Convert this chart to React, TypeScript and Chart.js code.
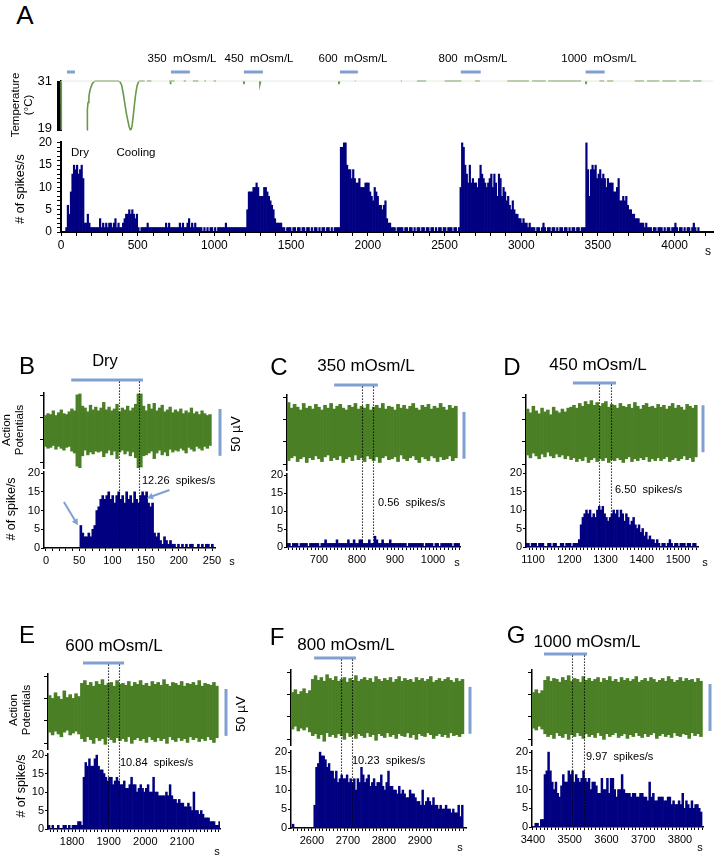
import React, { useEffect, useRef } from "react";
import { Chart, registerables } from "chart.js";

Chart.register(...registerables);

const FONT = '"Liberation Sans", Arial, Helvetica, sans-serif';
Chart.defaults.font.family = FONT;
Chart.defaults.color = "#000";

const NAVY = "#000080";
const AP_GREEN = "#4b7f25";
const TEMP_GREEN = "#6a9a48";
const STIM_BLUE = "#80a0d2";

// ================= Panel A data =================
const aSpikeBinStart = 0;
const aSpikeBinWidth = 10;
const aSpikeCounts = [
  0,0,0,1,6,4,9,13,15,14, 15,13,14,15,12,2,2,4,2,1,
  1,1,1,1,1,3,1,2,1,2, 1,2,2,1,2,3,1,2,1,1,
  2,3,4,4,5,4,5,4,3,4, 1,0,1,1,1,1,2,1,1,1,
  1,1,1,1,1,1,1,1,2,1, 2,1,1,1,1,1,1,2,1,2,
  1,1,2,3,1,2,1,2,1,1, 1,1,0,1,0,1,0,1,1,0,
  1,0,1,1,1,1,1,2,1,1, 1,1,1,1,1,1,1,1,1,1,
  1,5,9,9,9,10,10,11,10,8, 8,8,10,10,9,8,7,6,5,3,
  2,2,2,2,1,1,0,1,1,1, 0,1,1,0,1,1,0,1,1,0,
  1,1,0,1,0,1,1,0,1,0, 1,1,0,1,1,0,1,0,1,1,
  1,1,19,19,20,20,15,14,14,12, 14,12,11,11,12,10,10,10,11,11,
  11,9,8,7,10,9,8,6,6,5, 6,7,3,2,2,1,1,1,0,1,
  1,1,1,0,1,1,0,1,1,0, 1,0,1,1,0,1,1,0,1,1,
  0,1,1,0,1,0,1,1,0,1, 1,0,1,1,1,0,1,1,0,1,
  10,20,19,15,13,11,15,11,12,11, 11,10,12,15,13,12,11,10,11,12,
  13,10,13,11,8,13,12,8,10,9, 7,8,6,5,7,5,4,4,3,3,
  2,3,2,2,1,2,1,1,1,0, 1,1,0,1,2,1,0,1,1,0,
  1,1,0,1,0,1,1,0,1,1, 0,1,0,1,1,0,1,1,0,1,
  1,1,20,14,8,14,15,14,15,12, 13,14,12,13,12,10,12,11,11,11,
  9,9,10,12,7,7,8,7,8,6, 5,5,4,4,3,3,3,2,2,2,
  1,2,1,1,1,0,1,1,0,1, 1,1,0,1,0,1,1,0,1,1,
  2,1,0,1,1,0,1,0,1,1, 0,1,2,1,0,1,0,0,0,0,
  0,0,0,0,0
];
const aTimeMax = 4250;
const aXLabeled = [0, 500, 1000, 1500, 2000, 2500, 3000, 3500, 4000];
const aYLabeled = [0, 5, 10, 15, 20];
const aTempLabeled = [19, 31];
const aTempSetpoint = [[0, 31], [4250, 31]];
const aTempTrace = [
  [0,31],[2,18.5],[3,null],
  [170,18.5],[172,23.8],[176,25.5],[182,27],[188,28.5],[196,29.5],[204,30.3],[214,30.8],[224,31],[300,31],[370,31],
  [385,30.8],[395,30],[405,28],[415,25.5],[425,23],[435,21],[445,19.2],[452,18.6],[458,18.7],[464,19.8],[472,22.5],
  [480,25.5],[488,28],[496,29.8],[504,30.7],[512,31],[545,31],[546,null],
  [560,31],[590,31],[591,null],
  [705,31],[712,31],[714,30.2],[716,31],[740,31],[741,null],
  [800,31],[815,31],[816,null],
  [860,31],[895,31],[896,null],
  [935,31],[945,31],[946,null],
  [995,31],[1010,31],[1011,null],
  [1190,31],[1192,30.2],[1196,31],[1197,null],
  [1295,31],[1297,30.2],[1302,31],[1303,null],
  [1810,31],[1812,30.2],[1816,31],[1817,null],
  [1915,31],[1921,31],[1922,null],
  [2215,31],[2222,31],[2223,null],
  [2320,31],[2380,31],[2381,null],
  [2500,31],[2610,31],[2611,null],
  [2700,31],[2730,31],[2731,null],
  [2910,31],[3050,31],[3051,null],
  [3070,31],[3160,31],[3161,null],
  [3175,31],[3390,31],[3391,null],
  [3420,31],[3422,30.2],[3426,31],[3427,null],
  [3510,31],[3540,31],[3541,null],
  [3560,31],[3600,31],[3601,null],
  [3740,31],[3800,31],[3801,null],
  [3820,31],[3900,31],[3901,null],
  [3920,31],[4010,31],[4011,null],
  [4030,31],[4100,31],[4101,null],
  [4120,31],[4175,31]
];
const aStimNames = ["Dry", "350  mOsm/L", "450  mOsm/L", "600  mOsm/L", "800  mOsm/L", "1000  mOsm/L"];
const aStimStart = [39, 717, 1192, 1818, 2606, 3420];
const aStimEnd = [91, 840, 1316, 1935, 2736, 3544];

// ================= Panels B-G data =================
const panelLetters = ["B", "C", "D", "E", "F", "G"];
const panelTitles = ["Dry", "350 mOsm/L", "450 mOsm/L", "600 mOsm/L", "800 mOsm/L", "1000 mOsm/L"];
const panelRates = ["12.26  spikes/s", "0.56  spikes/s", "6.50  spikes/s", "10.84  spikes/s", "10.23  spikes/s", "9.97  spikes/s"];
const panelXMin = [-3, 616, 1080.7, 1734.5, 2541.7, 3397.3];
const panelXMax = [254.5, 1071, 1555, 2203.6, 3027.8, 3862.6];
const panelXLabeled = [
  [0, 50, 100, 150, 200, 250],
  [700, 800, 900, 1000],
  [1100, 1200, 1300, 1400, 1500],
  [1800, 1900, 2000, 2100],
  [2600, 2700, 2800, 2900],
  [3400, 3500, 3600, 3700, 3800]
];
const histYLabeled = [0, 5, 10, 15, 20];
const apAxisTicks = [-34, -10, 14, 37];
const panelStimStart = [38, 740, 1210, 1830, 2606, 3430];
const panelStimEnd = [146, 855, 1329, 1942, 2722, 3547];
const panelWinStart = [110, 813, 1282, 1898, 2681, 3506];
const panelWinEnd = [140, 842, 1315, 1928, 2711, 3539];
const scaleBarLow = [-27, -28, -21, -26, -28, -25];
const scaleBarSpan = 50;
const bArrowTail = [[27, 12.3], [186, 15.5]];
const bArrowHead = [[48, 6.1], [152, 13.3]];

const histStart = [0, 615, 1080, 1735, 2540, 3395];
const histBin = [3, 5, 5, 5, 5, 5];
const histB = [
  0,0,0,0,0,0,0,0,0,0, 0,0,0,0,0,0,0,6,4,3,
  3,4,3,5,6,10,11,13,14,13, 14,15,13,14,12,14,15,13,14,12,
  15,13,14,12,15,13,12,14,15,14, 15,12,11,12,4,3,4,2,1,3,
  2,1,2,1,1,0,1,0,1,0, 1,0,1,1,0,0,1,0,1,0,
  1,1,0,1
];
const histC = [
  1,1,0,1,1,1,0,1,1,1, 1,0,1,1,1,1,1,0,1,1,
  2,1,1,1,1,1,2,1,1,1, 1,1,2,1,1,2,1,1,2,2,
  1,1,1,2,1,1,3,2,1,1, 2,1,1,1,2,1,1,1,1,1,
  1,1,1,0,1,1,1,1,1,1, 1,1,0,1,1,1,1,0,1,1,
  0,1,1,1,1,1,1,0,1,1, 1
];
const histD = [
  1,1,0,1,1,1,0,1,1,1, 0,0,1,1,0,1,1,0,0,1,
  1,0,1,1,1,0,1,1,1,2, 6,8,9,10,9,10,8,9,8,10,
  11,10,11,9,8,7,8,9,10,9, 10,8,10,9,7,9,8,6,7,8,
  6,5,6,4,5,3,4,2,3,2, 2,1,2,1,0,1,1,0,1,2,
  1,0,1,1,0,1,1,1,0,1, 1,0,1,1
];
const histE = [
  1,0,1,0,0,1,0,0,1,1, 0,1,0,1,1,1,2,2,1,14,
  18,17,19,17,17,19,20,17,16,16, 15,14,13,14,14,12,13,14,13,12,
  12,13,11,11,12,14,12,12,10,11, 12,11,10,11,12,10,10,14,10,10,
  9,9,9,9,10,9,12,9,8,8, 7,8,7,7,6,6,7,6,5,10,
  5,5,4,5,4,3,3,3,2,2, 2,1,1,2
];
const histF = [
  0,1,0,0,0,0,0,0,0,0, 0,0,0,6,16,17,20,19,19,18,
  16,17,15,15,13,15,12,13,14,13, 13,14,12,13,12,13,10,13,12,16,
  14,12,13,14,11,12,13,11,12,12, 14,11,10,12,15,11,11,10,10,9,
  11,9,10,9,8,8,10,9,9,8, 7,7,6,10,6,7,8,7,6,8,
  6,6,5,6,5,5,6,5,5,4, 5,4,4,6,3,6,0
];
const histG = [
  0,0,1,1,0,2,2,14,15,20, 15,12,10,12,9,8,11,14,12,12,
  15,14,15,12,14,13,12,13,15,13, 12,13,10,12,12,11,9,9,13,10,
  10,13,9,13,13,10,8,10,10,14, 10,9,9,9,8,9,9,8,8,9,
  9,8,8,7,12,8,9,7,7,8, 8,8,7,7,8,8,6,7,6,6,
  7,6,9,5,7,6,5,7,5,6, 6,5,4,0
];
const histCounts = [histB, histC, histD, histE, histF, histG];

const apStart = [-3, 616, 1081, 1735, 2542, 3397];
const apBin = [4, 8, 8, 8, 8, 8];
const apTopB = [
  16,18,17,21,16,19,22,18,17,20, 23,21,38,39,26,24,20,27,22,25,
  21,24,30,22,25,21,23,28,20,24, 22,26,21,24,28,39,39,26,21,28,
  23,29,21,24,27,20,22,25,19,22, 20,23,18,21,19,24,18,20,17,21,
  18,16,17
];
const apBottomB = [
  -17,-19,-18,-16,-20,-17,-19,-21,-18,-17, -22,-24,-38,-40,-27,-21,-26,-23,-25,-22,
  -23,-22,-28,-24,-21,-26,-22,-30,-23,-21, -25,-22,-27,-23,-29,-40,-39,-27,-26,-24,
  -22,-30,-24,-21,-26,-23,-27,-20,-23,-21, -22,-19,-21,-24,-18,-20,-22,-17,-19,-21,
  -17,-19,-16
];
const apTopC = [
  32,26,30,27,24,31,26,28,25,30, 27,24,29,26,31,25,28,30,26,24,
  29,27,31,25,28,26,30,24,27,29, 26,31,25,28,27,24,30,26,29,25,
  28,31,26,24,29,27,30,25,28,26, 31,27,24,29,26,28
];
const apBottomC = [
  -30,-27,-25,-31,-28,-26,-32,-27,-29,-25, -28,-31,-26,-24,-30,-27,-29,-25,-32,-28,
  -26,-30,-24,-29,-27,-31,-25,-28,-30,-26, -32,-27,-25,-29,-28,-26,-31,-24,-28,-30,
  -27,-25,-29,-32,-26,-28,-30,-25,-27,-31, -26,-29,-28,-25,-30,-27
];
const apTopD = [
  25,21,28,23,20,26,22,24,19,27,23,21,25,22,26,
  27,29,26,31,28,33,30,34,29,32,28,31,33,27,30,
  29,26,31,28,27,30,26,32,28,25,29,31,27,28,26,
  30,27,29,25,28,31,26,29,27,24,30,28,26,29
];
const apBottomD = [
  -24,-27,-22,-25,-28,-23,-26,-21,-25,-27,-23,-26,-24,-28,-25,
  -29,-27,-31,-28,-30,-26,-32,-29,-27,-31,-28,-30,-27,-32,-29,
  -30,-27,-29,-32,-28,-26,-31,-28,-30,-27,-29,-26,-31,-28,-30,
  -27,-30,-28,-26,-31,-29,-27,-30,-28,-25,-29,-27,-31,-26
];
const apTopE = [
  17,14,20,16,13,22,15,18,14,19,16,
  30,33,28,31,27,32,29,34,28,30, 31,27,33,29,30,28,32,27,31,29,
  33,28,30,27,32,29,31,28,34,29, 27,31,30,28,32,27,30,29,31,28,
  33,27,30,29,28,31,27
];
const apBottomE = [
  -22,-25,-21,-24,-27,-22,-20,-25,-23,-21,-24,
  -29,-32,-27,-30,-34,-28,-31,-29,-35,-27, -30,-33,-28,-31,-29,-32,-27,-34,-30,-28,
  -31,-29,-33,-27,-30,-32,-28,-31,-29,-34, -27,-30,-32,-28,-31,-29,-33,-27,-30,-28,
  -32,-29,-31,-27,-30,-33,-28
];
const apTopF = [
  16,19,14,17,20,15,18,
  30,34,29,32,28,35,31,29,33,28, 30,32,27,31,29,34,28,30,32,29,
  31,27,33,30,28,31,29,32,27,30, 33,28,31,29,30,27,32,29,31,28,
  30,33,27,29,31,28,30,32,29,27, 31,28,30
];
const apBottomF = [
  -23,-20,-25,-22,-24,-21,-26,
  -30,-28,-33,-29,-36,-27,-31,-29,-32,-28, -30,-34,-27,-31,-29,-33,-28,-30,-32,-27,
  -31,-29,-35,-28,-30,-32,-27,-31,-29,-33, -28,-30,-31,-27,-32,-29,-34,-28,-30,-31,
  -27,-29,-33,-30,-28,-31,-29,-32,-27,-30, -29,-31,-28
];
const apTopG = [
  16,19,15,18,
  29,33,28,31,30,27,32,29,34,28, 31,30,27,33,29,31,28,30,32,27,
  31,29,33,28,30,27,32,29,31,28, 30,33,27,29,31,28,32,30,27,29,
  31,28,33,30,27,29,32,28,31,29, 30,27,31,28
];
const apBottomG = [
  -22,-24,-20,-23,
  -28,-31,-29,-33,-27,-30,-32,-28,-34,-29, -31,-27,-30,-33,-28,-31,-29,-32,-27,-30,
  -34,-28,-31,-29,-27,-32,-30,-28,-33,-29, -31,-27,-30,-32,-28,-31,-29,-27,-33,-30,
  -28,-31,-29,-32,-27,-30,-31,-28,-29,-33, -27,-30,-28,-31
];
const apTops = [apTopB, apTopC, apTopD, apTopE, apTopF, apTopG];
const apBottoms = [apBottomB, apBottomC, apBottomD, apBottomE, apBottomF, apBottomG];

// ================= Layout (pixels) =================
const A_L = 61, A_R = 713;
const A_TEMP_T = 81, A_TEMP_B = 130;
const A_HIST_T = 142, A_HIST_B = 232;
const A_STIM_Y = 72;

const PANEL_LAYOUT = [
  { l: 44, r: 215, apT: 393, apB: 468, hT: 472, hB: 548, stimY: 380, sbDx: 5 },
  { l: 287, r: 460, apT: 395, apB: 470, hT: 474, hB: 547, stimY: 385, sbDx: 4 },
  { l: 526, r: 698, apT: 395, apB: 470, hT: 472, hB: 547, stimY: 383, sbDx: 5 },
  { l: 48, r: 220, apT: 674, apB: 749, hT: 754, hB: 829, stimY: 663, sbDx: 6 },
  { l: 291, r: 466, apT: 670, apB: 745, hT: 751, hB: 828, stimY: 658, sbDx: 4 },
  { l: 532, r: 703, apT: 670, apB: 745, hT: 751, hB: 827, stimY: 654, sbDx: 7 },
];

type M = { l: number; t: number; r: number; b: number };
function frame(l: number, t: number, r: number, b: number, m: M) {
  return { left: l - m.l, top: t - m.t, width: r - l + m.l + m.r, height: b - t + m.t + m.b };
}
function baseOptions(m: M, xShown: boolean) {
  return {
    responsive: false,
    maintainAspectRatio: false,
    animation: false,
    devicePixelRatio: 1,
    events: [],
    layout: { padding: { left: 0, right: m.r, top: m.t, bottom: xShown ? 0 : m.b } },
    plugins: { legend: { display: false }, tooltip: { enabled: false }, title: { display: false } },
  };
}
const same = (a: number[], v: number) => a.some((x) => Math.abs(x - v) < 1e-6);

function drawArrow(ctx: CanvasRenderingContext2D, x1: number, y1: number, x2: number, y2: number) {
  const ang = Math.atan2(y2 - y1, x2 - x1);
  const h = 7;
  ctx.beginPath();
  ctx.moveTo(x1, y1);
  ctx.lineTo(x2 - Math.cos(ang) * h * 0.7, y2 - Math.sin(ang) * h * 0.7);
  ctx.stroke();
  ctx.beginPath();
  ctx.moveTo(x2, y2);
  ctx.lineTo(x2 - h * Math.cos(ang - 0.5), y2 - h * Math.sin(ang - 0.5));
  ctx.lineTo(x2 - h * Math.cos(ang + 0.5), y2 - h * Math.sin(ang + 0.5));
  ctx.closePath();
  ctx.fill();
}

type Plot = { rect: { left: number; top: number; width: number; height: number }; make: () => any };
const PLOTS: Plot[] = [];

// ---- A: temperature ----
{
  const m = { l: 40, t: 21, r: 10, b: 16 };
  const rect = frame(A_L, A_TEMP_T, A_R, A_TEMP_B, m);
  PLOTS.push({
    rect,
    make: () => ({
      type: "line",
      data: {
        datasets: [
          { data: aTempSetpoint.map((p) => ({ x: p[0], y: p[1] })), borderColor: "#e4ebe0", borderWidth: 1, pointRadius: 0, clip: false },
          { data: aTempTrace.map((p) => ({ x: p[0], y: p[1] })), borderColor: TEMP_GREEN, borderWidth: 1.6, pointRadius: 0, spanGaps: false, tension: 0, clip: false },
        ],
      },
      options: {
        ...baseOptions(m, false),
        scales: {
          x: { type: "linear", display: false, min: 0, max: aTimeMax },
          y: {
            type: "linear", min: 18.5, max: 31,
            grid: { drawOnChartArea: false, tickLength: 4, color: "#000", lineWidth: 1 },
            border: { display: true, color: "#000", width: 2 },
            ticks: { stepSize: 0.25, autoSkip: false, padding: 5, font: { size: 13 }, color: "#000", callback: (v: number) => (same(aTempLabeled, v) ? String(v) : "") },
            afterFit: (s: any) => { s.width = m.l; },
          },
        },
      },
      plugins: [{
        id: "stimA",
        afterDraw: (chart: any) => {
          const ctx = chart.ctx, x = chart.scales.x;
          ctx.save();
          ctx.fillStyle = STIM_BLUE;
          aStimStart.forEach((s, i) => {
            const xa = x.getPixelForValue(s), xb = x.getPixelForValue(aStimEnd[i]);
            ctx.fillRect(xa, A_STIM_Y - rect.top - 1.5, xb - xa, 3);
          });
          ctx.restore();
        },
      }],
    }),
  });
}

// ---- A: spike histogram ----
{
  const m = { l: 40, t: 16, r: 10, b: 30 };
  const rect = frame(A_L, A_HIST_T, A_R, A_HIST_B, m);
  PLOTS.push({
    rect,
    make: () => ({
      type: "bar",
      data: {
        datasets: [{
          data: aSpikeCounts.map((v, i) => ({ x: aSpikeBinStart + aSpikeBinWidth * (i + 0.5), y: v })),
          backgroundColor: NAVY, borderWidth: 0, barPercentage: 1, categoryPercentage: 1, grouped: false,
        }],
      },
      options: {
        ...baseOptions(m, true),
        scales: {
          x: {
            type: "linear", min: 0, max: aTimeMax, offset: false,
            grid: { offset: false, drawOnChartArea: false, tickLength: 4, color: "#000" },
            border: { display: true, color: "#000", width: 2 },
            ticks: { stepSize: 100, autoSkip: false, includeBounds: false, maxRotation: 0, padding: 2, font: { size: 12 }, color: "#000", callback: (v: number) => (same(aXLabeled, v) ? String(v) : "") },
            afterFit: (s: any) => { s.height = m.b; },
          },
          y: {
            type: "linear", min: 0, max: 20.2,
            grid: { drawOnChartArea: false, tickLength: 4, color: "#000" },
            border: { display: true, color: "#000", width: 2 },
            ticks: { stepSize: 1, autoSkip: false, includeBounds: false, padding: 5, font: { size: 12 }, color: "#000", callback: (v: number) => (same(aYLabeled, v) ? String(v) : "") },
            afterFit: (s: any) => { s.width = m.l; },
          },
        },
      },
    }),
  });
}

// ---- Panels B-G ----
panelLetters.forEach((_, k) => {
  const L = PANEL_LAYOUT[k];
  const mAp = { l: 40, t: 10, r: 14, b: 10 };
  const rectAp = frame(L.l, L.apT, L.r, L.apB, mAp);
  PLOTS.push({
    rect: rectAp,
    make: () => ({
      type: "bar",
      data: {
        datasets: [{
          data: apTops[k].map((hi, i) => ({ x: apStart[k] + apBin[k] * (i + 0.5), y: [apBottoms[k][i], hi] })),
          backgroundColor: AP_GREEN, borderWidth: 0, barPercentage: 1, categoryPercentage: 1, grouped: false,
        }],
      },
      options: {
        ...baseOptions(mAp, false),
        scales: {
          x: { type: "linear", display: false, min: panelXMin[k], max: panelXMax[k], offset: false, grid: { offset: false } },
          y: {
            type: "linear", min: -40, max: 40,
            afterBuildTicks: (s: any) => { s.ticks = apAxisTicks.map((v) => ({ value: v })); },
            grid: { drawOnChartArea: false, tickLength: 4, color: "#000" },
            border: { display: true, color: "#000", width: 1.5 },
            ticks: { autoSkip: false, padding: 0, font: { size: 6 }, callback: () => "" },
            afterFit: (s: any) => { s.width = mAp.l; },
          },
        },
      },
      plugins: [{
        id: "scalebar",
        afterDraw: (chart: any) => {
          const ctx = chart.ctx, y = chart.scales.y, a = chart.chartArea;
          const y1 = y.getPixelForValue(scaleBarLow[k]);
          const y2 = y.getPixelForValue(scaleBarLow[k] + scaleBarSpan);
          ctx.save();
          ctx.fillStyle = STIM_BLUE;
          ctx.fillRect(a.right + L.sbDx - 1.5, y2, 3, y1 - y2);
          ctx.restore();
        },
      }],
    }),
  });
  const mH = { l: 40, t: L.hT - (L.stimY - 6), r: 14, b: 26 };
  const rectH = frame(L.l, L.hT, L.r, L.hB, mH);
  PLOTS.push({
    rect: rectH,
    make: () => ({
      type: "bar",
      data: {
        datasets: [{
          data: histCounts[k].map((v, i) => ({ x: histStart[k] + histBin[k] * (i + 0.5), y: v })),
          backgroundColor: NAVY, borderWidth: 0, barPercentage: 1, categoryPercentage: 1, grouped: false,
        }],
      },
      options: {
        ...baseOptions(mH, true),
        scales: {
          x: {
            type: "linear", min: panelXMin[k], max: panelXMax[k], offset: false,
            grid: { offset: false, drawOnChartArea: false, tickLength: 3, color: "#000" },
            border: { display: true, color: "#000", width: 1.5 },
            ticks: { stepSize: 10, autoSkip: false, includeBounds: false, maxRotation: 0, padding: 3, font: { size: 11 }, color: "#000", callback: (v: number) => (same(panelXLabeled[k], v) ? String(v) : "") },
            afterFit: (s: any) => { s.height = mH.b; },
          },
          y: {
            type: "linear", min: 0, max: 20.3,
            grid: { drawOnChartArea: false, tickLength: 3, color: "#000" },
            border: { display: true, color: "#000", width: 1.5 },
            ticks: { stepSize: 5, autoSkip: false, includeBounds: false, padding: 1, font: { size: 11 }, color: "#000", callback: (v: number) => (same(histYLabeled, v) ? String(v) : "") },
            afterFit: (s: any) => { s.width = mH.l; },
          },
        },
      },
      plugins: [{
        id: "stimwin",
        afterDraw: (chart: any) => {
          const ctx = chart.ctx, x = chart.scales.x, y = chart.scales.y, a = chart.chartArea;
          const sy = L.stimY - rectH.top;
          ctx.save();
          ctx.fillStyle = STIM_BLUE;
          const xa = x.getPixelForValue(panelStimStart[k]), xb = x.getPixelForValue(panelStimEnd[k]);
          ctx.fillRect(xa, sy - 1.5, xb - xa, 3);
          ctx.strokeStyle = "#000";
          ctx.lineWidth = 1.1;
          ctx.setLineDash([1.3, 1.7]);
          [panelWinStart[k], panelWinEnd[k]].forEach((w) => {
            const px = Math.round(x.getPixelForValue(w)) + 0.5;
            ctx.beginPath();
            ctx.moveTo(px, sy + 1.5);
            ctx.lineTo(px, a.bottom);
            ctx.stroke();
          });
          ctx.setLineDash([]);
          if (k === 0) {
            ctx.strokeStyle = STIM_BLUE;
            ctx.fillStyle = STIM_BLUE;
            ctx.lineWidth = 2;
            bArrowTail.forEach((t, i) => {
              const h = bArrowHead[i];
              drawArrow(ctx, x.getPixelForValue(t[0]), y.getPixelForValue(t[1]), x.getPixelForValue(h[0]), y.getPixelForValue(h[1]));
            });
          }
          ctx.restore();
        },
      }],
    }),
  });
});

// ================= Text labels =================
type Lab = { t: string; x: number; y: number; s: number; rot?: boolean; left?: boolean };
const LABELS: Lab[] = [
  { t: "A", x: 25, y: 15, s: 26 },
  { t: aStimNames[1], x: 182, y: 58, s: 11.5 },
  { t: aStimNames[2], x: 259, y: 58, s: 11.5 },
  { t: aStimNames[3], x: 353, y: 58, s: 11.5 },
  { t: aStimNames[4], x: 473, y: 58, s: 11.5 },
  { t: aStimNames[5], x: 599, y: 58, s: 11.5 },
  { t: "Dry", x: 80, y: 152, s: 11.5 },
  { t: "Cooling", x: 136, y: 152, s: 11.5 },
  { t: "Temperature\n(°C)", x: 22, y: 105, s: 11.5, rot: true },
  { t: "# of spikes/s", x: 21, y: 189, s: 12.5, rot: true },
  { t: "s", x: 708, y: 252, s: 12 },
  { t: panelLetters[0], x: 27, y: 366, s: 24 },
  { t: panelTitles[0], x: 105, y: 360, s: 16.5 },
  { t: "Action\nPotentials", x: 13, y: 430, s: 11.5, rot: true },
  { t: "50 µV", x: 236, y: 434, s: 13.5, rot: true },
  { t: "# of spike/s", x: 12, y: 509, s: 12.5, rot: true },
  { t: panelRates[0], x: 142, y: 480, s: 11, left: true },
  { t: "s", x: 232, y: 561, s: 11 },
  { t: panelLetters[1], x: 279, y: 367, s: 24 },
  { t: panelTitles[1], x: 366, y: 366, s: 17 },
  { t: panelRates[1], x: 378, y: 502, s: 11, left: true },
  { t: "s", x: 457, y: 562, s: 11 },
  { t: panelLetters[2], x: 512, y: 367, s: 24 },
  { t: panelTitles[2], x: 598, y: 365, s: 17 },
  { t: panelRates[2], x: 615, y: 489, s: 11, left: true },
  { t: "s", x: 705, y: 562, s: 11 },
  { t: panelLetters[3], x: 27, y: 635, s: 24 },
  { t: panelTitles[3], x: 114, y: 646, s: 17 },
  { t: "Action\nPotentials", x: 20, y: 710, s: 11.5, rot: true },
  { t: "50 µV", x: 241, y: 714, s: 13.5, rot: true },
  { t: "# of spike/s", x: 22, y: 786, s: 12.5, rot: true },
  { t: panelRates[3], x: 120, y: 762, s: 11, left: true },
  { t: "s", x: 217, y: 851, s: 11 },
  { t: panelLetters[4], x: 277, y: 637, s: 24 },
  { t: panelTitles[4], x: 346, y: 645, s: 17 },
  { t: panelRates[4], x: 352, y: 760, s: 11, left: true },
  { t: "s", x: 460, y: 847, s: 11 },
  { t: panelLetters[5], x: 516, y: 635, s: 24 },
  { t: panelTitles[5], x: 587, y: 642, s: 17 },
  { t: panelRates[5], x: 586, y: 756, s: 11, left: true },
  { t: "s", x: 700, y: 847, s: 11 },
];

function Label({ d }: { d: Lab }) {
  const style: React.CSSProperties = {
    position: "absolute",
    left: d.x,
    top: d.y,
    fontSize: d.s,
    fontFamily: FONT,
    lineHeight: 1.1,
    whiteSpace: "pre",
    textAlign: "center",
    color: "#000",
    transform: d.left ? "translate(0,-50%)" : d.rot ? "translate(-50%,-50%) rotate(-90deg)" : "translate(-50%,-50%)",
  };
  return <div style={style}>{d.t}</div>;
}

export default function App() {
  const refs = useRef<(HTMLCanvasElement | null)[]>([]);
  useEffect(() => {
    const charts = PLOTS.map((p, i) => new Chart(refs.current[i] as HTMLCanvasElement, p.make()));
    return () => charts.forEach((c) => c.destroy());
  }, []);
  return (
    <div style={{ position: "absolute", left: 0, top: 0, width: 723, height: 855, background: "#fff", overflow: "hidden" }}>
      {PLOTS.map((p, i) => (
        <canvas
          key={i}
          ref={(el) => { refs.current[i] = el; }}
          width={p.rect.width}
          height={p.rect.height}
          style={{ position: "absolute", left: p.rect.left, top: p.rect.top, width: p.rect.width, height: p.rect.height }}
        />
      ))}
      {LABELS.map((d, i) => <Label key={i} d={d} />)}
    </div>
  );
}
